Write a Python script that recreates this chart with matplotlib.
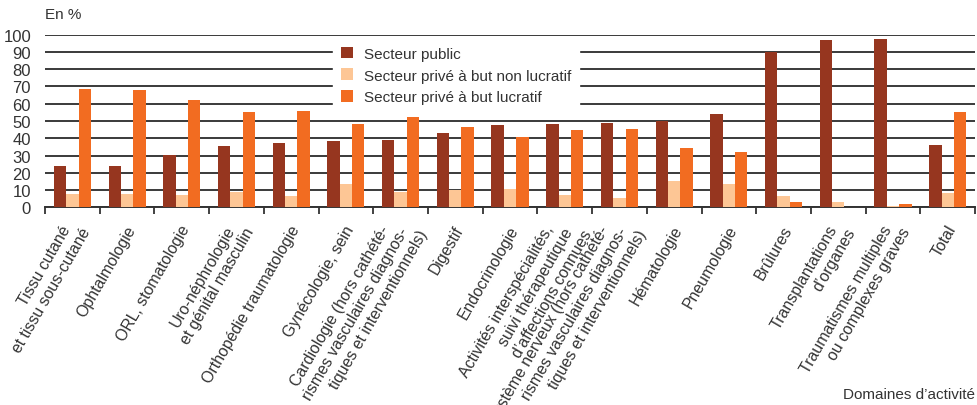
import numpy as np
import matplotlib
matplotlib.use("Agg")
import matplotlib.pyplot as plt
from matplotlib.patches import Patch
from matplotlib.transforms import ScaledTranslation

plt.rcParams['font.family'] = ['Liberation Sans', 'DejaVu Sans']

# domaines d'activite
categories = [
    "Tissu cutané\net tissu sous-cutané",
    "Ophtalmologie",
    "ORL, stomatologie",
    "Uro-néphrologie\net génital masculin",
    "Orthopédie traumatologie",
    "Gynécologie, sein",
    "Cardiologie (hors cathété-\nrismes vasculaires diagnos-\ntiques et interventionnels)",
    "Digestif",
    "Endocrinologie",
    "Activités interspécialités,\nsuivi thérapeutique\nd’affections connues",
    "Système nerveux (hors cathété-\nrismes vasculaires diagnos-\ntiques et interventionnels)",
    "Hématologie",
    "Pneumologie",
    "Brûlures",
    "Transplantations\nd’organes",
    "Traumatismes multiples\nou complexes graves",
    "Total",
]

public = [24, 24, 30.3, 35.5, 37.2, 38.4, 39, 43, 47.7, 48.3, 48.8, 49.9, 53.9, 89.8, 96.8, 97.5, 36.1]
prive_non_lucratif = [7.7, 7.8, 7.1, 8.9, 6.5, 13.5, 8.9, 10.2, 10.6, 7.1, 5.4, 15.2, 13.5, 6.5, 3.1, 0.8, 8.3]
prive_lucratif = [68.5, 68, 62.2, 55.2, 55.8, 48.3, 52.3, 46.4, 41, 44.8, 45.4, 34.4, 32.1, 3.1, 0, 1.9, 55.2]

series_names = ["Secteur public", "Secteur privé à but non lucratif", "Secteur privé à but lucratif"]
colors = ["#96361f", "#fdc695", "#f26c21"]
txt_color = '#333333'

fig = plt.figure(figsize=(9.78, 4.06), dpi=100)
ax = fig.add_axes([0.046, 0.487, 0.951, 0.425])

x = np.arange(len(categories))
w = 0.226
for i, vals in enumerate([public, prive_non_lucratif, prive_lucratif]):
    ax.bar(x + (i - 1) * w, vals, width=w, color=colors[i], zorder=3)

ax.set_xlim(-0.5, len(categories) - 0.5)
ax.set_ylim(0, 100)
ax.set_yticks(np.arange(0, 101, 10))
ax.tick_params(axis='y', length=0, pad=10, labelsize=12, labelcolor=txt_color)
for lab in ax.get_yticklabels():
    lab.set_family(['Liberation Sans Narrow', 'Liberation Sans'])

ax.yaxis.grid(True, color='#3a3a3a', linewidth=1.4)
ax.set_axisbelow(True)

for s in ['top', 'right', 'left']:
    ax.spines[s].set_visible(False)
ax.spines['bottom'].set_color(txt_color)
ax.spines['bottom'].set_linewidth(1.4)

# ticks at category boundaries
ax.set_xticks(np.arange(-0.5, len(categories), 1))
ax.set_xticklabels([])
ax.tick_params(axis='x', which='major', length=5, width=1.3, color=txt_color)

# rotated category labels, one text per line (lines step sideways like the original)
for i, lab in enumerate(categories):
    lines = lab.split("\n")
    n = len(lines)
    for k, line in enumerate(lines):
        dx = -2 + 19 * (k - (n - 1) / 2)   # pixels
        dy = -15 - 2.5 * k
        tr = ax.get_xaxis_transform() + ScaledTranslation(dx / 100, dy / 100, fig.dpi_scale_trans)
        ax.text(x[i], 0, line, transform=tr, rotation=60, rotation_mode='anchor',
                ha='right', va='top', fontsize=11.4, color=txt_color, clip_on=False)

handles = [Patch(facecolor=c, edgecolor='none') for c in colors]
leg = ax.legend(handles, series_names, loc='upper left', bbox_to_anchor=(0.31, 0.975),
                frameon=True, fancybox=False, framealpha=1, edgecolor='white',
                fontsize=11, handlelength=0.8, handleheight=0.8, handletextpad=0.7,
                labelspacing=0.5, borderpad=0.5, borderaxespad=0)
for t in leg.get_texts():
    t.set_color(txt_color)

fig.text(45 / 978, 1 - 15 / 406, "En %", fontsize=11, color=txt_color, va='center', ha='left')
fig.text(0.997, 1 - 395 / 406, "Domaines d’activité", fontsize=11, color=txt_color,
         va='center', ha='right')

fig.savefig("out.png", dpi=100)
